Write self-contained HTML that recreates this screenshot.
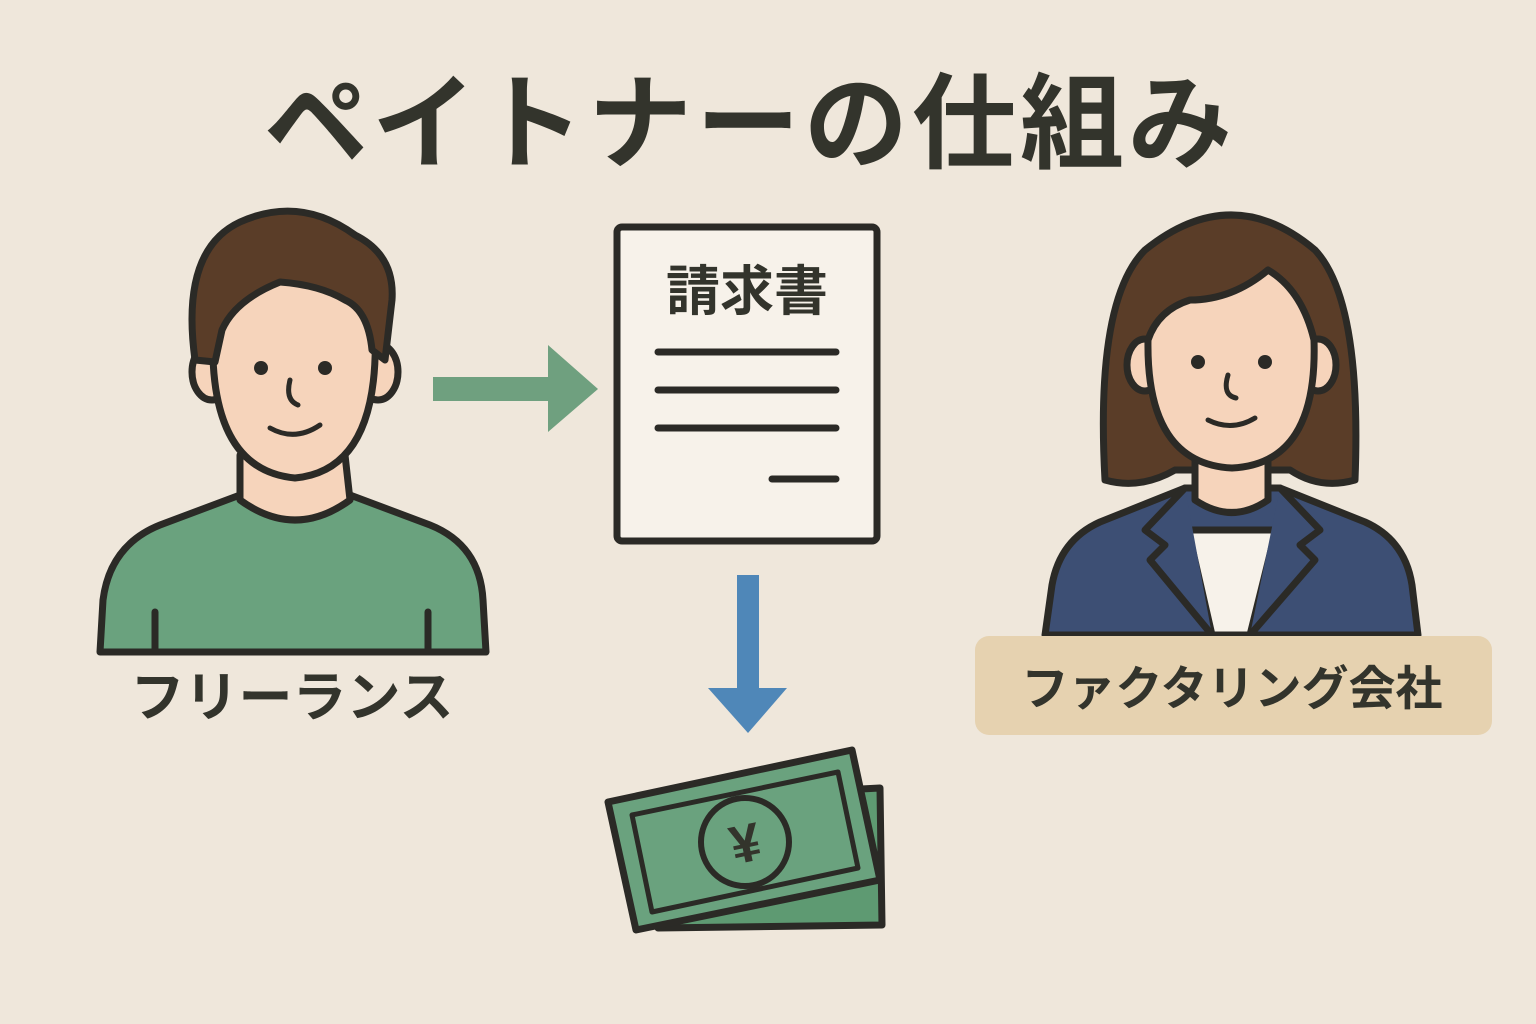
<!DOCTYPE html>
<html><head><meta charset="utf-8"><style>
html,body{margin:0;padding:0;background:#efe7db;}
svg{display:block}
text{font-family:"Liberation Sans","Noto Sans CJK JP",sans-serif;font-weight:bold;fill:#33342c}
</style></head><body>
<svg width="1536" height="1024" viewBox="0 0 1536 1024">
<rect width="1536" height="1024" fill="#efe7db"/>
<text x="750" y="160" font-size="104" text-anchor="middle" letter-spacing="4">ペイトナーの仕組み</text>

<!-- Man -->
<g stroke="#2b2a26" stroke-width="7" stroke-linejoin="round" stroke-linecap="round">
<path d="M100,652 L103,600 Q110,545 160,525 L240,495 L350,495 L430,525 Q480,545 483,600 L486,652 Z" fill="#6aa27e"/>
<path d="M155,612 V650 M428,612 V650" fill="none"/>
<path d="M240,455 L240,500 Q295,540 350,500 L345,455 Z" fill="#f6d4bb"/>
<ellipse cx="212" cy="372" rx="20" ry="28" fill="#f6d4bb"/>
<ellipse cx="378" cy="372" rx="20" ry="28" fill="#f6d4bb"/>
<path d="M213,330 Q208,470 295,478 Q380,470 375,330 Q370,260 295,260 Q218,260 213,330 Z" fill="#f6d4bb"/>
<path d="M195,360 Q180,250 240,222 Q300,195 355,235 Q395,255 392,300 L385,360 L372,350 Q368,310 345,300 Q320,285 280,282 Q235,300 222,330 L215,362 Z" fill="#5a3d28"/>
<path d="M290,380 Q285,400 298,405" fill="none" stroke-width="5"/>
<path d="M270,428 Q295,442 320,425" fill="none" stroke-width="5"/>
</g>
<circle cx="261" cy="368" r="7" fill="#2b2a26"/><circle cx="325" cy="368" r="7" fill="#2b2a26"/>
<text x="292" y="716" font-size="54" text-anchor="middle">フリーランス</text>

<!-- green arrow -->
<rect x="433" y="377" width="118" height="24" fill="#6fa07f"/>
<polygon points="548,345 598,389 548,432" fill="#6fa07f"/>

<!-- Document -->
<rect x="617" y="227" width="260" height="314" rx="5" fill="#f7f2ea" stroke="#2b2a26" stroke-width="7"/>
<text x="747" y="310" font-size="54" text-anchor="middle">請求書</text>
<g stroke="#2b2a26" stroke-width="7" stroke-linecap="round">
<line x1="658" y1="352" x2="836" y2="352"/><line x1="658" y1="390" x2="836" y2="390"/>
<line x1="658" y1="428" x2="836" y2="428"/><line x1="772" y1="479" x2="836" y2="479"/>
</g>

<!-- blue arrow -->
<rect x="737" y="575" width="22" height="116" fill="#4f87b8"/>
<polygon points="708,688 787,688 748,733" fill="#4f87b8"/>

<!-- money -->
<g stroke="#2b2a26" stroke-width="7" stroke-linejoin="round">
<polygon points="655,800 880,788 882,925 658,928" fill="#5e9a72"/>
<polygon points="608,802 852,750 880,880 636,930" fill="#6aa27e"/>
<polygon points="632,815 838,772 858,868 652,912" fill="none" stroke-width="5"/>
<circle cx="745" cy="842" r="44" fill="#6aa27e" stroke-width="6"/>
</g>
<text x="745" y="862" font-size="54" text-anchor="middle" transform="rotate(-12 745 842)">¥</text>

<!-- Woman -->
<g stroke="#2b2a26" stroke-width="7" stroke-linejoin="round" stroke-linecap="round">
<path d="M1045,635 L1052,585 Q1060,540 1100,522 L1185,488 L1280,488 L1365,522 Q1405,540 1412,585 L1418,635 Z" fill="#3d4f74"/>
<path d="M1188,530 L1276,530 L1250,635 L1212,635 Z" fill="#f7f2ea"/>
<path d="M1185,488 L1145,530 L1165,545 L1150,560 L1212,635 M1280,488 L1320,530 L1300,545 L1315,560 L1250,635" fill="#3d4f74"/>
<path d="M1105,480 Q1095,300 1145,250 Q1232,180 1315,250 Q1362,300 1355,480 Q1320,490 1290,470 L1175,470 Q1140,490 1105,480 Z" fill="#5a3d28"/>
<path d="M1195,440 L1195,500 Q1232,525 1268,500 L1268,440 Z" fill="#f6d4bb"/>
<ellipse cx="1145" cy="365" rx="18" ry="26" fill="#f6d4bb"/>
<ellipse cx="1318" cy="365" rx="18" ry="26" fill="#f6d4bb"/>
<path d="M1148,340 Q1146,464 1232,468 Q1318,464 1314,340 Q1302,290 1268,270 Q1232,300 1190,300 Q1158,310 1148,340 Z" fill="#f6d4bb"/>
<path d="M1228,375 Q1222,395 1236,398" fill="none" stroke-width="5"/>
<path d="M1208,420 Q1232,432 1255,418" fill="none" stroke-width="5"/>
</g>
<circle cx="1198" cy="362" r="7" fill="#2b2a26"/><circle cx="1265" cy="362" r="7" fill="#2b2a26"/>
<rect x="975" y="636" width="517" height="99" rx="14" fill="#e6d2b0"/>
<text x="1232" y="705" font-size="47" text-anchor="middle">ファクタリング会社</text>
</svg>
</body></html>
